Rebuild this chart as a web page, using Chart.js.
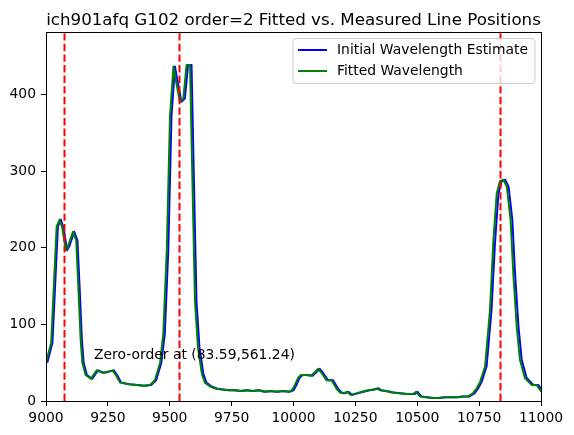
<!DOCTYPE html>
<html>
<head>
<meta charset="utf-8">
<script src="https://cdn.jsdelivr.net/npm/chart.js@4.4.1/dist/chart.umd.min.js"></script>
<style>
    html, body { margin: 0; padding: 0; background: #fff; }
    #wrap { width: 574px; height: 435px; }
</style>
</head>
<body>
<div id="wrap"><canvas id="lineChart"></canvas></div>
<script>
// Datos
var waveInitial = [9005, 9026, 9048, 9060, 9071, 9085, 9094, 9114, 9127, 9135,
    9145, 9152, 9165, 9186, 9210, 9232, 9251, 9274, 9287, 9304,
    9338, 9371, 9397, 9425, 9445, 9466, 9480, 9494, 9507, 9521,
    9533, 9547, 9561, 9574, 9588, 9595, 9608, 9620, 9636, 9648,
    9669, 9693, 9717, 9741, 9766, 9790, 9814, 9838, 9863, 9887,
    9911, 9935, 9960, 9984, 10000, 10012, 10024, 10036, 10056, 10077,
    10093, 10106, 10121, 10140, 10160, 10180, 10194, 10207, 10221, 10238,
    10259, 10283, 10307, 10327, 10343, 10355, 10376, 10404, 10432, 10461,
    10489, 10501, 10517, 10541, 10566, 10590, 10614, 10638, 10663, 10687,
    10711, 10731, 10747, 10760, 10780, 10800, 10814, 10828, 10841, 10855,
    10869, 10884, 10895, 10909, 10922, 10942, 10969, 10989, 11009];

var waveFitted = [9000, 9021, 9043, 9055, 9066, 9080, 9089, 9109, 9122, 9130,
    9140, 9147, 9160, 9181, 9205, 9227, 9246, 9269, 9282, 9299,
    9333, 9366, 9392, 9420, 9440, 9461, 9474, 9488, 9501, 9515,
    9527, 9541, 9555, 9568, 9582, 9589, 9602, 9614, 9630, 9642,
    9663, 9687, 9711, 9735, 9760, 9784, 9808, 9832, 9857, 9881,
    9905, 9929, 9954, 9978, 9994, 10006, 10018, 10030, 10050, 10071,
    10087, 10100, 10115, 10134, 10154, 10174, 10188, 10201, 10215, 10232,
    10253, 10277, 10301, 10321, 10337, 10349, 10370, 10398, 10426, 10455,
    10483, 10495, 10511, 10535, 10560, 10584, 10608, 10632, 10657, 10681,
    10705, 10725, 10741, 10754, 10774, 10794, 10807, 10821, 10834, 10848,
    10862, 10877, 10888, 10902, 10915, 10935, 10962, 10982, 11002];

var flux = [50, 76, 228, 237, 226, 197, 202, 221, 210, 154,
    80, 50, 34, 29, 40, 37, 38, 40, 34, 24,
    22, 21, 20, 21, 27, 50, 88, 197, 372, 437,
    415, 391, 395, 439, 439, 328, 130, 70, 35, 24,
    19, 16, 15, 14, 14, 13, 14, 13, 14, 12,
    13, 12, 13, 12, 14, 21, 30, 34, 34, 33,
    38, 42, 36, 27, 27, 16, 11, 10, 12, 8,
    10, 12, 14, 15, 16.5, 14, 13, 11, 10, 9,
    9, 12, 6, 5, 4, 4, 5, 5, 5, 6,
    6, 10, 17, 25, 45, 119, 206, 271, 287, 289,
    280, 237, 167, 97, 54, 30, 21, 21, 12];

var zeroOrderLines = [9071, 9536, 10834];
var xTicks = [9000, 9250, 9500, 9750, 10000, 10250, 10500, 10750, 11000];
var yTicks = [0, 100, 200, 300, 400];
var seriesLabels = ['Initial Wavelength Estimate', 'Fitted Wavelength'];
var chartTitle = 'ich901afq G102 order=2 Fitted vs. Measured Line Positions';
var noteText = 'Zero-order at (83.59,561.24)';
var notePos = [9194, 55];

var FONT = '"DejaVu Sans", sans-serif';
var BLUE = '#0000ff';
var GREEN = '#008000';

// Plugin para las líneas rojas, el texto, el marco, el título y la leyenda
var extrasPlugin = {
    id: 'extras',
    afterDatasetsDraw: function(chart) {
        var ctx = chart.ctx;
        var area = chart.chartArea;
        var xs = chart.scales.x;
        var ys = chart.scales.y;

        ctx.save();
        ctx.beginPath();
        ctx.rect(area.left, area.top, area.right - area.left, area.bottom - area.top);
        ctx.clip();
        ctx.strokeStyle = '#ff0000';
        ctx.lineWidth = 2;
        ctx.setLineDash([7.4, 3.2]);
        zeroOrderLines.forEach(function(w) {
            var px = Math.round(xs.getPixelForValue(w)) + 0.5;
            ctx.beginPath();
            ctx.moveTo(px, area.bottom);
            ctx.lineTo(px, area.top);
            ctx.stroke();
        });
        ctx.restore();

        // Texto de orden cero
        ctx.save();
        ctx.fillStyle = '#000';
        ctx.font = '13.9px ' + FONT;
        ctx.textAlign = 'left';
        ctx.textBaseline = 'alphabetic';
        ctx.fillText(noteText, xs.getPixelForValue(notePos[0]), ys.getPixelForValue(notePos[1]));
        ctx.restore();
    },
    afterDraw: function(chart) {
        var ctx = chart.ctx;
        var area = chart.chartArea;

        // Marco completo
        ctx.save();
        ctx.strokeStyle = '#000';
        ctx.lineWidth = 1;
        ctx.strokeRect(Math.round(area.left) + 0.5, Math.round(area.top) + 0.5,
            Math.round(area.right - area.left), Math.round(area.bottom - area.top));

        // Título
        ctx.fillStyle = '#000';
        ctx.font = '16.7px ' + FONT;
        ctx.textAlign = 'center';
        ctx.textBaseline = 'alphabetic';
        ctx.fillText(chartTitle, (area.left + area.right) / 2, 25);

        // Leyenda
        ctx.font = '13.9px ' + FONT;
        var textW = Math.max.apply(null, seriesLabels.map(function(t) { return ctx.measureText(t).width; }));
        var boxRight = area.right - 6;
        var boxTop = area.top + 6.5;
        var boxW = 44 + textW + 7;
        var boxH = 45;
        var boxLeft = boxRight - boxW;
        var r = 3;
        ctx.beginPath();
        ctx.moveTo(boxLeft + r, boxTop);
        ctx.arcTo(boxRight, boxTop, boxRight, boxTop + boxH, r);
        ctx.arcTo(boxRight, boxTop + boxH, boxLeft, boxTop + boxH, r);
        ctx.arcTo(boxLeft, boxTop + boxH, boxLeft, boxTop, r);
        ctx.arcTo(boxLeft, boxTop, boxRight, boxTop, r);
        ctx.closePath();
        ctx.fillStyle = 'rgba(255,255,255,0.8)';
        ctx.fill();
        ctx.strokeStyle = '#cccccc';
        ctx.stroke();

        var colors = [BLUE, GREEN];
        ctx.textAlign = 'left';
        ctx.textBaseline = 'middle';
        seriesLabels.forEach(function(label, i) {
            var yRow = boxTop + 11.5 + i * 21;
            ctx.strokeStyle = colors[i];
            ctx.lineWidth = 2;
            ctx.beginPath();
            ctx.moveTo(boxLeft + 5, yRow);
            ctx.lineTo(boxLeft + 34, yRow);
            ctx.stroke();
            ctx.fillStyle = '#000';
            ctx.fillText(label, boxLeft + 44, yRow);
        });
        ctx.restore();
    }
};

document.addEventListener('DOMContentLoaded', function() {
    var ctx = document.getElementById('lineChart');

    var initialPoints = waveInitial.map(function(w, i) { return { x: w, y: flux[i] }; });
    var fittedPoints = waveFitted.map(function(w, i) { return { x: w, y: flux[i] }; });

    new Chart(ctx, {
        type: 'scatter',
        data: {
            datasets: [
                {
                    label: seriesLabels[0],
                    data: initialPoints,
                    showLine: true,
                    borderColor: BLUE,
                    backgroundColor: BLUE,
                    borderWidth: 2,
                    pointRadius: 0,
                    tension: 0,
                    borderJoinStyle: 'round',
                    order: 1
                },
                {
                    label: seriesLabels[1],
                    data: fittedPoints,
                    showLine: true,
                    borderColor: GREEN,
                    backgroundColor: GREEN,
                    borderWidth: 2,
                    pointRadius: 0,
                    tension: 0,
                    borderJoinStyle: 'round',
                    order: 0
                }
            ]
        },
        options: {
            responsive: true,
            maintainAspectRatio: false,
            animation: false,
            layout: {
                padding: { top: 32, right: 33, left: 0, bottom: 0 }
            },
            plugins: {
                legend: { display: false },
                tooltip: { enabled: false },
                title: { display: false }
            },
            scales: {
                x: {
                    type: 'linear',
                    min: 9000,
                    max: 11000,
                    afterBuildTicks: function(scale) {
                        scale.ticks = xTicks.map(function(v) { return { value: v }; });
                    },
                    afterFit: function(scale) { scale.height = 34; },
                    ticks: {
                        color: '#000',
                        font: { family: FONT, size: 13.9 },
                        padding: 4,
                        maxRotation: 0,
                        autoSkip: false,
                        callback: function(v) { return String(v); }
                    },
                    grid: { drawOnChartArea: false, drawTicks: true, tickLength: 5, color: '#000' },
                    border: { display: true, color: '#000' }
                },
                y: {
                    type: 'linear',
                    min: 0,
                    max: 482,
                    afterBuildTicks: function(scale) {
                        scale.ticks = yTicks.map(function(v) { return { value: v }; });
                    },
                    afterFit: function(scale) { scale.width = 46; },
                    ticks: {
                        color: '#000',
                        font: { family: FONT, size: 13.9 },
                        padding: 5,
                        autoSkip: false,
                        callback: function(v) { return String(v); }
                    },
                    grid: { drawOnChartArea: false, drawTicks: true, tickLength: 5, color: '#000' },
                    border: { display: true, color: '#000' }
                }
            }
        },
        plugins: [extrasPlugin]
    });
});
</script>
</body>
</html>
